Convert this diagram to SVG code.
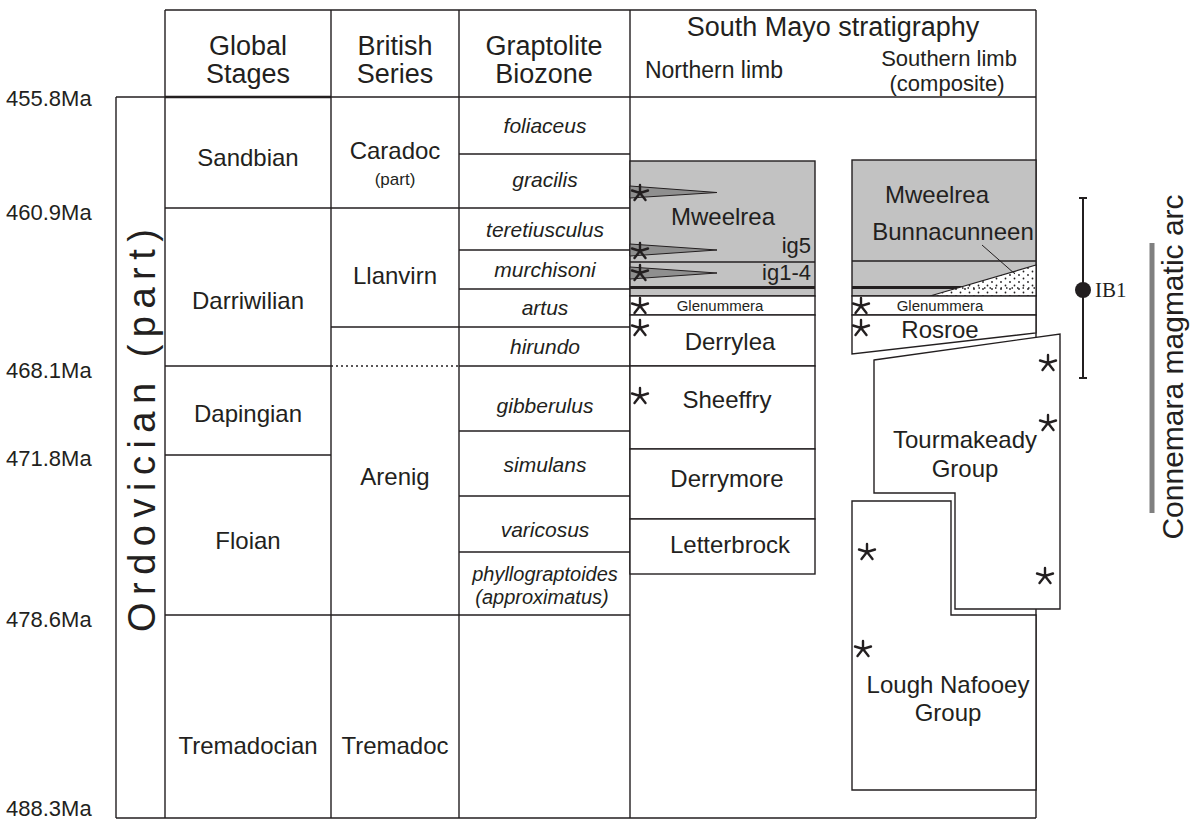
<svg xmlns="http://www.w3.org/2000/svg" width="1193" height="823" viewBox="0 0 1193 823">
<defs>
<style>
.ln{stroke:#231f20;stroke-width:1.4;fill:none}
.bx{stroke:#231f20;stroke-width:1.4;fill:#fff}
.sh{stroke:#231f20;stroke-width:1.4;fill:#c2c2c2}
.wd{stroke:#231f20;stroke-width:1;fill:#8f8f8f}
.thk{stroke:#231f20;stroke-width:3;fill:none}
text{font-family:"Liberation Sans",Arial,sans-serif;fill:#231f20}
.hd{font-size:27px;text-anchor:middle}
.hs{font-size:23px;text-anchor:middle}
.lb{font-size:24px;text-anchor:middle}
.gr{font-size:21px;font-style:italic;text-anchor:middle}
.ma{font-size:22px}
.gl{font-size:15px;text-anchor:middle}
.st{stroke:#231f20;stroke-width:2.4;stroke-linecap:round;fill:none}
</style>
<pattern id="dots" width="9" height="7" patternUnits="userSpaceOnUse">
<rect width="9" height="7" fill="#fff"/>
<circle cx="2" cy="2" r="0.9" fill="#231f20"/>
<circle cx="6.5" cy="5.5" r="0.9" fill="#231f20"/>
</pattern>
<symbol id="star" viewBox="-9 -9 18 18" width="18" height="18" overflow="visible">
<path class="st" d="M0,-8 L0,0 M-8,-2.5 L0,0 L8,-2.5 M-5.5,7 L0,0 L5.5,7"/>
</symbol>
</defs>

<g id="table">
<path class="ln" d="M165,10 H1036 M165,10 V818 M331,10 V818 M459,10 V818 M630,10 V818 M1036,10 V818"/>
<path class="ln" d="M116,97 H1036 M116,97 V818 M116,818 H1036"/>
<path class="thk" style="stroke-width:2.4" d="M165,97 H331"/>
<path class="ln" d="M165,208 H630 M165,366 H331 M459,366 H630 M165,455 H331 M165,615 H630 M331,327 H630"/>
<path class="ln" style="stroke-dasharray:2,3" d="M331,366 H459"/>
<path class="ln" d="M459,154 H630 M459,250 H630 M459,289 H630 M459,431 H630 M459,496 H630 M459,552 H630"/>
</g>

<g id="header-text">
<text class="hd" x="248" y="55">Global</text>
<text class="hd" x="248" y="83">Stages</text>
<text class="hd" x="395" y="55">British</text>
<text class="hd" x="395" y="83">Series</text>
<text class="hd" x="544" y="55">Graptolite</text>
<text class="hd" x="544" y="83">Biozone</text>
<text class="hd" x="833" y="36">South Mayo stratigraphy</text>
<text class="hs" x="714" y="78">Northern limb</text>
<text class="hs" x="949" y="66" style="font-size:22px">Southern limb</text>
<text class="hs" x="947" y="91" style="font-size:22px">(composite)</text>
</g>

<g id="ages">
<text class="ma" x="6" y="106">455.8Ma</text>
<text class="ma" x="6" y="220">460.9Ma</text>
<text class="ma" x="6" y="378">468.1Ma</text>
<text class="ma" x="6" y="466">471.8Ma</text>
<text class="ma" x="6" y="627">478.6Ma</text>
<text class="ma" x="6" y="816">488.3Ma</text>
</g>

<g id="system">
<text x="0" y="0" transform="translate(155,632) rotate(-90)" style="font-size:38px;letter-spacing:7.5px">Ordovician (part)</text>
</g>

<g id="global-stages">
<text class="lb" x="248" y="166">Sandbian</text>
<text class="lb" x="248" y="309">Darriwilian</text>
<text class="lb" x="248" y="422">Dapingian</text>
<text class="lb" x="248" y="549">Floian</text>
<text class="lb" x="248" y="754">Tremadocian</text>
</g>

<g id="british-series">
<text class="lb" x="395" y="159">Caradoc</text>
<text x="395" y="185" style="font-size:17px;text-anchor:middle">(part)</text>
<text class="lb" x="395" y="284">Llanvirn</text>
<text class="lb" x="395" y="485">Arenig</text>
<text class="lb" x="395" y="754">Tremadoc</text>
</g>

<g id="graptolites">
<text class="gr" x="545" y="133">foliaceus</text>
<text class="gr" x="545" y="187">gracilis</text>
<text class="gr" x="545" y="237">teretiusculus</text>
<text class="gr" x="545" y="277">murchisoni</text>
<text class="gr" x="545" y="315">artus</text>
<text class="gr" x="545" y="354">hirundo</text>
<text class="gr" x="545" y="413">gibberulus</text>
<text class="gr" x="545" y="472">simulans</text>
<text class="gr" x="545" y="537">varicosus</text>
<text class="gr" x="545" y="581" style="font-size:20px">phyllograptoides</text>
<text class="gr" x="542" y="604" style="font-size:20px">(approximatus)</text>
</g>

<g id="northern-limb">
<g id="n-mweelrea">
<rect class="sh" x="630" y="161" width="185" height="135"/>
<path class="ln" d="M630,262 H815"/>
<path class="thk" d="M630,287.5 H815"/>
<path class="wd" d="M630,186 L717,192.5 L630,198 Z"/>
<path class="wd" d="M630,244 L717,250 L630,256 Z"/>
<path class="wd" d="M630,267 L717,273 L630,279 Z"/>
<use href="#star" x="631" y="184"/>
<use href="#star" x="631" y="242"/>
<use href="#star" x="631" y="264"/>
<text class="lb" x="723" y="225">Mweelrea</text>
<text x="811" y="253" style="font-size:22px;text-anchor:end">ig5</text>
<text x="811" y="280" style="font-size:22px;text-anchor:end">ig1-4</text>
</g>
<g id="n-glenummera">
<rect class="bx" x="630" y="296" width="185" height="19"/>
<use href="#star" x="631" y="297"/>
<text class="gl" x="720" y="311">Glenummera</text>
</g>
<g id="n-derrylea">
<rect class="bx" x="630" y="315" width="185" height="51"/>
<use href="#star" x="631" y="319"/>
<text class="lb" x="730" y="350">Derrylea</text>
</g>
<g id="n-sheeffry">
<rect class="bx" x="630" y="366" width="185" height="83"/>
<use href="#star" x="631" y="387"/>
<text class="lb" x="727" y="408">Sheeffry</text>
</g>
<g id="n-derrymore">
<rect class="bx" x="630" y="449" width="185" height="70"/>
<text class="lb" x="727" y="487">Derrymore</text>
</g>
<g id="n-letterbrock">
<rect class="bx" x="630" y="519" width="185" height="55"/>
<text class="lb" x="730" y="553">Letterbrock</text>
</g>
</g>

<g id="southern-limb">
<g id="s-mweelrea">
<rect class="sh" x="852" y="160" width="184" height="136"/>
<path class="ln" d="M852,261 H1036"/>
<path class="thk" d="M852,287.5 H962"/>
<path d="M930,296 L1036,265 L1036,296 Z" fill="url(#dots)" stroke="#231f20" stroke-width="1.2"/>
<path d="M962,288 H1036" stroke="#231f20" stroke-width="1.6" stroke-dasharray="1.5,4" fill="none"/>
<path class="ln" style="stroke-width:1" d="M982,245 L1015,274"/>
<text class="lb" x="937" y="203">Mweelrea</text>
<text class="lb" x="953" y="240">Bunnacunneen</text>
</g>
<g id="s-glenummera">
<rect class="bx" x="852" y="296" width="184" height="19"/>
<use href="#star" x="852" y="297"/>
<text class="gl" x="940" y="311">Glenummera</text>
</g>
<g id="s-rosroe">
<path class="bx" d="M852,315 H1036 V333 L852,354 Z"/>
<use href="#star" x="852" y="319"/>
<text class="lb" x="940" y="338">Rosroe</text>
</g>
<g id="s-lough-nafooey">
<path class="bx" d="M852,501 H951 V615 H1036 V790 H852 Z"/>
<use href="#star" x="858" y="543"/>
<use href="#star" x="854" y="640"/>
<text class="lb" x="948" y="693">Lough Nafooey</text>
<text class="lb" x="948" y="721">Group</text>
</g>
<g id="s-tourmakeady">
<path class="bx" d="M874,360 L1060,334 V609 H955 V493 H874 Z"/>
<use href="#star" x="1039" y="354"/>
<use href="#star" x="1039" y="414"/>
<use href="#star" x="1036" y="567"/>
<text class="lb" x="965" y="448">Tourmakeady</text>
<text class="lb" x="965" y="477">Group</text>
</g>
</g>

<g id="ib1">
<path class="ln" style="stroke-width:2" d="M1083,198 V378 M1079,198 H1087 M1079,378 H1087"/>
<circle cx="1083" cy="290" r="8" fill="#231f20"/>
<text x="1095" y="297" style="font-family:'Liberation Serif','Times New Roman',serif;font-size:21px">IB1</text>
</g>

<g id="connemara-arc">
<path d="M1152,243 V513" stroke="#808080" stroke-width="5" fill="none"/>
<text x="0" y="0" transform="translate(1183,367) rotate(-90)" style="font-size:30px;text-anchor:middle">Connemara magmatic arc</text>
</g>
</svg>
